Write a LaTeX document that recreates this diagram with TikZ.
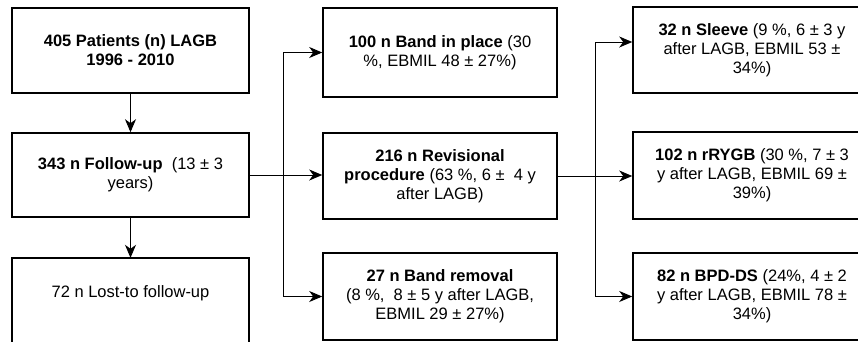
\documentclass[tikz,border=0pt]{standalone}
\usepackage{fontspec}
\setmainfont{Liberation Sans}
\usetikzlibrary{arrows.meta,calc}
\begin{document}
\begin{tikzpicture}[x=1pt,y=-1pt,
  box/.style={draw=black,line width=1.6pt,rectangle,minimum width=237pt,inner sep=0pt,align=center,
    font=\fontsize{16.5}{19}\selectfont},
  txt/.style={rectangle,inner sep=0pt,align=center,minimum width=237pt,font=\fontsize{16.5}{19}\selectfont},
  conn/.style={draw=black,line width=0.9pt},
  arr/.style={conn,-{Stealth[length=13pt,width=11pt,inset=4pt]}}]
\clip (0,0) rectangle (858,341);
\fill[white] (0,0) rectangle (858,341);
% left column
\node[box,minimum height=85pt] (pat) at (130.5,50.5) {\textbf{405 Patients (n) LAGB}\\\textbf{1996 - 2010}};
\node[box,minimum height=84pt] (fu) at (130.5,175) {\textbf{343 n Follow-up}\ \ (13 ± 3\\years)};
\node[txt,minimum height=70pt] (lost) at (130.5,293) {72 n Lost-to follow-up};
\draw[line width=1.6pt] (lost.north west) rectangle ([yshift=-60pt]lost.south east);
% middle column
\node[box,minimum width=234pt,minimum height=89pt] (m1) at (440,52.5) {\textbf{100 n Band in place} (30\\\%, EBMIL 48 ± 27\%)};
\node[box,minimum width=234pt,minimum height=86pt] (m2) at (440,176) {\textbf{216 n Revisional}\\\textbf{procedure} (63 \%, 6 ±\ \ 4 y\\after LAGB)};
\node[box,minimum width=234pt,minimum height=87pt] (m3) at (440,296.5) {\textbf{27 n Band removal}\\(8 \%,\ \ 8 ± 5 y after LAGB,\\EBMIL 29 ± 27\%)};
% right column
\node[box,minimum width=238pt,minimum height=86pt] (r1) at (752,50) {\textbf{32 n Sleeve} (9 \%, 6 ± 3 y\\after LAGB, EBMIL 53 ±\\34\%)};
\node[box,minimum width=238pt,minimum height=87pt] (r2) at (752,175.5) {\textbf{102 n rRYGB} (30 \%, 7 ± 3\\y after LAGB, EBMIL 69 ±\\39\%)};
\node[box,minimum width=238pt,minimum height=87pt] (r3) at (752,296.5) {\textbf{82 n BPD-DS} (24\%, 4 ± 2\\y after LAGB, EBMIL 78 ±\\34\%)};
% splits
\coordinate (s1) at (283,0);
\coordinate (s2) at (595,0);
\coordinate (r1in) at ($(r1.west)+(0,-8)$);
% left vertical arrows
\draw[arr] (pat.south) -- (fu.north);
\draw[arr] (fu.south) -- (lost.north);
% first split
\draw[arr] (fu.east) -- (fu.east -| m2.west);
\draw[conn] (s1 |- m1.west) -- (s1 |- m3.west);
\draw[arr] (s1 |- m1.west) -- (m1.west);
\draw[arr] (s1 |- m3.west) -- (m3.west);
% second split
\draw[arr] (m2.east) -- (m2.east -| r2.west);
\draw[conn] (s2 |- r1in) -- (s2 |- r3.west);
\draw[arr] (s2 |- r1in) -- (r1in);
\draw[arr] (s2 |- r3.west) -- (r3.west);
\end{tikzpicture}
\end{document}
